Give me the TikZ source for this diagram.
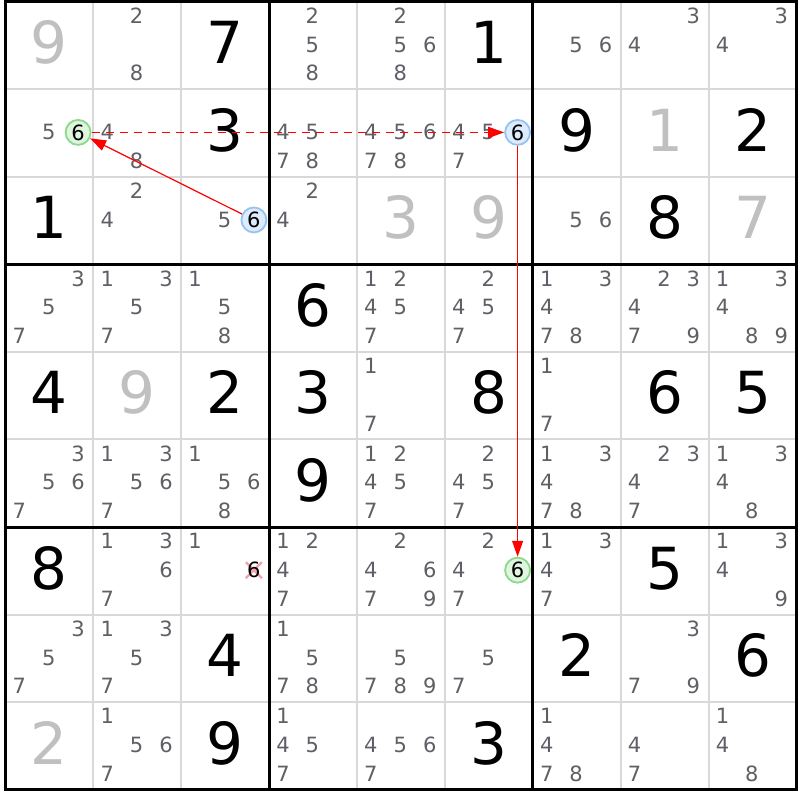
\documentclass[tikz,border=0pt]{standalone}
\usepackage{fontspec}
\setmainfont{DejaVu Sans}
\usetikzlibrary{arrows.meta,calc}
\definecolor{candgray}{RGB}{95,95,102}
\definecolor{givengray}{RGB}{192,192,192}
\definecolor{thingrid}{RGB}{216,216,216}
\definecolor{greenring}{RGB}{140,216,140}
\definecolor{greenfill}{RGB}{222,246,222}
\definecolor{bluering}{RGB}{150,196,240}
\definecolor{bluefill}{RGB}{220,235,253}
\definecolor{elimx}{RGB}{244,160,170}
\definecolor{chainred}{RGB}{255,0,0}
\begin{document}
\begin{tikzpicture}[x=1pt,y=-1pt,
  cand/.style={anchor=base,inner sep=0pt,font=\fontsize{21}{25}\selectfont,text=candgray},
  bigsolved/.style={anchor=base,inner sep=0pt,font=\fontsize{58}{66}\selectfont,text=black},
  biggiven/.style={bigsolved,text=givengray},
  thinline/.style={draw=thingrid,line width=2pt},
  thickline/.style={draw=black,line width=3pt},
  greencirc/.style={circle,minimum size=25pt,inner sep=0pt,draw=greenring,line width=1.8pt,fill=greenfill,font=\fontsize{21}{25}\selectfont,text=black},
  bluecirc/.style={greencirc,draw=bluering,fill=bluefill},
  elimdigit/.style={inner sep=0pt,font=\fontsize{21}{25}\selectfont,text=black},
  linkarrow/.style={draw=chainred,line width=1.2pt,-{Triangle[length=16pt,width=11pt]}},
  weaklink/.style={linkarrow,line width=1.6pt,dash pattern=on 8pt off 6pt}]
\useasboundingbox (0,0) rectangle (800,800);
\fill[white] (0,0) rectangle (800,800);
% thin grid lines
\foreach \i in {1,2,4,5,7,8} {
  \draw[thinline] ({5.3+\i*87.9},1.7) -- ({5.3+\i*87.9},789.65);
  \draw[thinline] (5.3,{1.7+\i*87.55}) -- (796.4,{1.7+\i*87.55});
}
% thick grid lines
\foreach \i in {3,6} {
  \draw[thickline] ({5.3+\i*87.9},1.7) -- ({5.3+\i*87.9},789.65);
  \draw[thickline] (5.3,{1.7+\i*87.55}) -- (796.4,{1.7+\i*87.55});
}
\draw[thickline] (5.3,1.7) rectangle (796.4,789.65);
% given digits
\foreach \r/\c/\v in {1/1/9, 2/8/1, 3/5/3, 3/6/9, 3/9/7, 5/2/9, 9/1/2} {
  \node[biggiven] (n\r\c) at ({5.3+(\c-0.5)*87.9},{1.7+(\r-1)*87.55+62}) {\v};
}
% solved digits
\foreach \r/\c/\v in {1/3/7,1/6/1,2/3/3,2/7/9,2/9/2,3/1/1,3/8/8,4/4/6,5/1/4,5/3/2,5/4/3,5/6/8,5/8/6,5/9/5,6/4/9,7/1/8,7/8/5,8/3/4,8/7/2,8/9/6,9/3/9,9/6/3} {
  \node[bigsolved] (n\r\c) at ({5.3+(\c-0.5)*87.9},{1.7+(\r-1)*87.55+62}) {\v};
}
% candidates
\foreach \r/\c/\v in {
 1/2/{2,8}, 1/4/{2,5,8}, 1/5/{2,5,6,8}, 1/7/{5,6}, 1/8/{3,4}, 1/9/{3,4},
 2/1/{5}, 2/2/{4,8}, 2/4/{4,5,7,8}, 2/5/{4,5,6,7,8}, 2/6/{4,5,7},
 3/2/{2,4}, 3/3/{5}, 3/4/{2,4}, 3/7/{5,6},
 4/1/{3,5,7}, 4/2/{1,3,5,7}, 4/3/{1,5,8}, 4/5/{1,2,4,5,7}, 4/6/{2,4,5,7}, 4/7/{1,3,4,7,8}, 4/8/{2,3,4,7,9}, 4/9/{1,3,4,8,9},
 5/5/{1,7}, 5/7/{1,7},
 6/1/{3,5,6,7}, 6/2/{1,3,5,6,7}, 6/3/{1,5,6,8}, 6/5/{1,2,4,5,7}, 6/6/{2,4,5,7}, 6/7/{1,3,4,7,8}, 6/8/{2,3,4,7}, 6/9/{1,3,4,8},
 7/2/{1,3,6,7}, 7/3/{1}, 7/4/{1,2,4,7}, 7/5/{2,4,6,7,9}, 7/6/{2,4,7}, 7/7/{1,3,4,7}, 7/9/{1,3,4,9},
 8/1/{3,5,7}, 8/2/{1,3,5,7}, 8/4/{1,5,7,8}, 8/5/{5,7,8,9}, 8/6/{5,7}, 8/8/{3,7,9},
 9/2/{1,5,6,7}, 9/4/{1,4,5,7}, 9/5/{4,5,6,7}, 9/7/{1,4,7,8}, 9/8/{4,7}, 9/9/{1,4,8}} {
  \foreach \d in \v {
    \pgfmathsetmacro\px{5.3+(\c-1)*87.9+14+mod(\d-1,3)*29.4}
    \pgfmathsetmacro\py{1.7+(\r-1)*87.55+21.8+floor((\d-1)/3)*28.7}
    \node[cand] (k\r\c\d) at (\px,\py) {\d};
  }
}
% eliminated candidate r7c3 6
\coordinate (x73) at (253.9,570.15);
\draw[elimx,line width=2.3pt] ($(x73)+(-8,-8)$) -- ($(x73)+(8,8)$);
\draw[elimx,line width=2.3pt] ($(x73)+(-8,8)$) -- ($(x73)+(8,-8)$);
\node[elimdigit] (e73) at (x73) {6};
% highlighted candidates
\node[greencirc] (g21) at (78.1,132.4) {6};
\node[bluecirc] (b26) at (517.6,132.4) {6};
\node[bluecirc] (b33) at (253.9,219.95) {6};
\node[greencirc] (g76) at (517.6,570.15) {6};
% links
\draw[weaklink] (g21) -- (b26);
\draw[linkarrow] (b33) -- (g21);
\draw[linkarrow] (b26) -- (g76);
\end{tikzpicture}
\end{document}
